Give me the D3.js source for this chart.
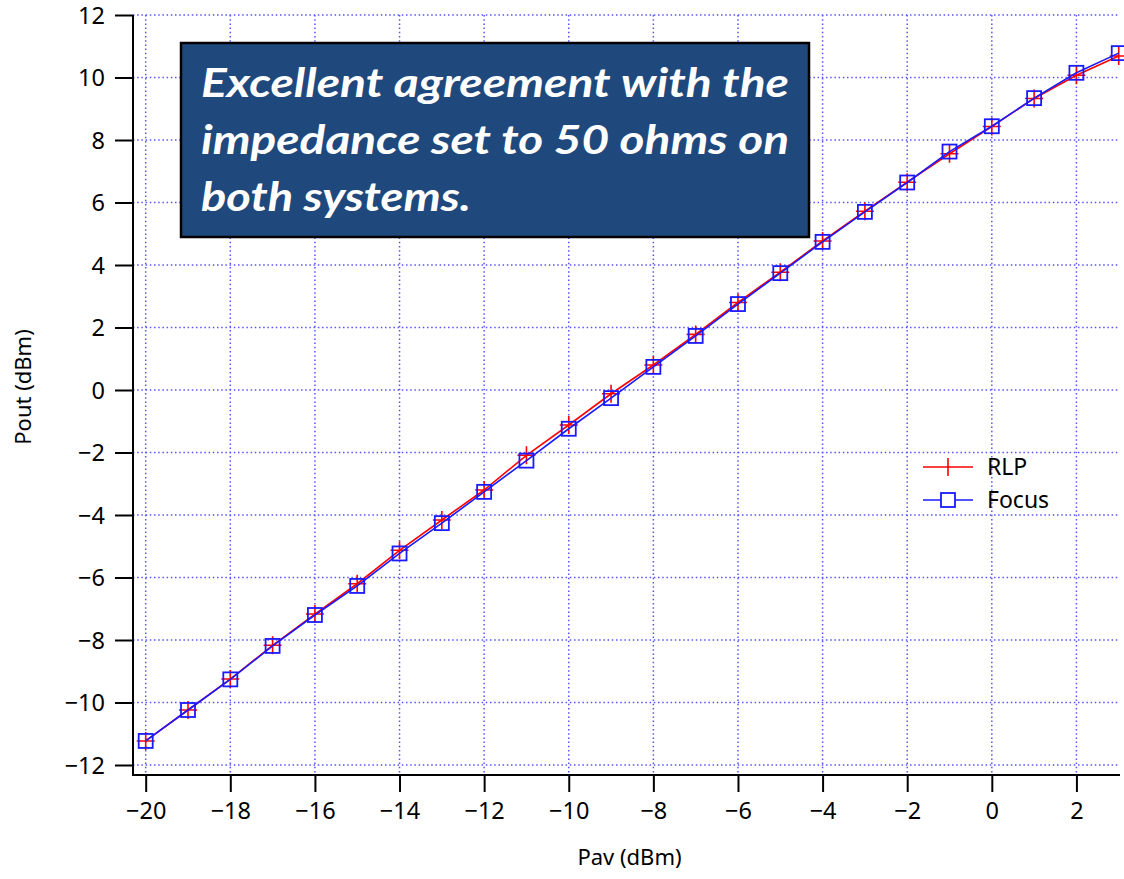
<!DOCTYPE html>
<html>
<head>
<meta charset="utf-8">
<script src="https://cdn.jsdelivr.net/npm/d3@7"></script>
<style>
  body { margin: 0; background: #fff; }
  svg { display: block; font-family: "Noto Sans", "Open Sans", sans-serif; }
</style>
</head>
<body>
<svg id="chart"></svg>
<script>
const width = 1124;
const height = 879;

// data
const pav = [-20, -19, -18, -17, -16, -15, -14, -13, -12, -11, -10, -9, -8, -7, -6, -5, -4, -3, -2, -1, 0, 1, 2, 3];
const rlp = [-11.23, -10.24, -9.25, -8.17, -7.17, -6.2, -5.13, -4.16, -3.2, -2.09, -1.12, -0.12, 0.8, 1.78, 2.8, 3.77, 4.77, 5.72, 6.65, 7.56, 8.43, 9.33, 10.07, 10.69];
const focus = [-11.23, -10.24, -9.26, -8.19, -7.2, -6.27, -5.23, -4.26, -3.26, -2.26, -1.24, -0.26, 0.74, 1.73, 2.75, 3.74, 4.74, 5.7, 6.64, 7.63, 8.44, 9.34, 10.15, 10.78];
const xTicks = [-20, -18, -16, -14, -12, -10, -8, -6, -4, -2, 0, 2];
const yTicks = [-12, -10, -8, -6, -4, -2, 0, 2, 4, 6, 8, 10, 12];
const noteLines = ['Excellent agreement with the', 'impedance set to 50 ohms on', 'both systems.'];
const legendNames = ['RLP', 'Focus'];

const plotLeft = 133, plotRight = 1120, plotTop = 15, plotBottom = 775;

const svg = d3.select('#chart')
    .attr('width', width)
    .attr('height', height);

const x = d3.scaleLinear().domain([-20.3, 3.03]).range([plotLeft, plotRight]);
const y = d3.scaleLinear().domain([-12.32, 12]).range([plotBottom, plotTop]);

// grid
const grid = svg.append('g')
    .attr('stroke', '#5555ff')
    .attr('stroke-width', 1.5)
    .attr('stroke-dasharray', '1.5,2.7');

grid.selectAll('.hg').data(yTicks).enter().append('line')
    .attr('x1', plotLeft).attr('x2', plotRight)
    .attr('y1', d => y(d)).attr('y2', d => y(d));

grid.selectAll('.vg').data(xTicks).enter().append('line')
    .attr('x1', d => x(d)).attr('x2', d => x(d))
    .attr('y1', plotTop).attr('y2', plotBottom);

// axes
const fmt = d => d < 0 ? '\u2212' + Math.abs(d) : String(d);

const xAxis = svg.append('g')
    .attr('transform', `translate(0, ${plotBottom})`)
    .call(d3.axisBottom(x).tickValues(xTicks).tickSize(17).tickSizeOuter(0).tickPadding(10).tickFormat(fmt));

const yAxis = svg.append('g')
    .attr('transform', `translate(${plotLeft}, 0)`)
    .call(d3.axisLeft(y).tickValues(yTicks).tickSize(18).tickSizeOuter(0).tickPadding(10).tickFormat(fmt));

[xAxis, yAxis].forEach(a => {
    a.select('.domain').attr('stroke', '#000').attr('stroke-width', 2);
    a.selectAll('.tick line').attr('stroke', '#000').attr('stroke-width', 2);
    a.selectAll('.tick text')
        .attr('fill', '#000')
        .style('font-family', '"Noto Sans", sans-serif')
        .style('font-size', '23.5px');
});
yAxis.selectAll('.tick text').attr('dy', '0.34em');
yAxis.select('.domain').attr('d', `M0,${plotBottom + 1}V${plotTop}`);
xAxis.select('.domain').attr('d', `M${plotLeft - 1},0H${plotRight}`);

svg.append('text')
    .attr('x', (plotLeft + plotRight) / 2 + 3)
    .attr('y', 865)
    .attr('text-anchor', 'middle')
    .style('font-size', '22px')
    .text('Pav (dBm)');

svg.append('text')
    .attr('transform', `translate(31, ${(plotTop + plotBottom) / 2- 8}) rotate(-90)`)
    .attr('text-anchor', 'middle')
    .style('font-size', '22px')
    .text('Pout (dBm)');

// series
const line = d3.line()
    .x((d, i) => x(pav[i]))
    .y(d => y(d));

svg.append('path')
    .datum(rlp)
    .attr('fill', 'none')
    .attr('stroke', '#ff0000')
    .attr('stroke-width', 1.6)
    .attr('d', line);

svg.selectAll('.cross').data(rlp).enter().append('path')
    .attr('class', 'cross')
    .attr('fill', 'none')
    .attr('stroke', '#ff0000')
    .attr('stroke-width', 1.6)
    .attr('d', (d, i) => `M${x(pav[i]) - 9},${y(d)}h18M${x(pav[i])},${y(d) - 9}v18`);

svg.append('path')
    .datum(focus)
    .attr('fill', 'none')
    .attr('stroke', '#1a1aff')
    .attr('stroke-width', 1.6)
    .attr('d', line);

svg.selectAll('.sq').data(focus).enter().append('rect')
    .attr('class', 'sq')
    .attr('x', (d, i) => x(pav[i]) - 7)
    .attr('y', d => y(d) - 7)
    .attr('width', 14)
    .attr('height', 14)
    .attr('fill', 'none')
    .attr('stroke', '#1a1aff')
    .attr('stroke-width', 1.8);

// legend
const legend = svg.append('g').attr('transform', 'translate(923, 467)');
const legendColors = ['#ff0000', '#1a1aff'];

legendNames.forEach((name, i) => {
    const g = legend.append('g').attr('transform', `translate(0, ${i * 33})`);
    g.append('line')
        .attr('x1', 0).attr('x2', 50)
        .attr('stroke', legendColors[i]).attr('stroke-width', 1.6);
    if (i === 0) {
        g.append('line')
            .attr('x1', 25).attr('x2', 25).attr('y1', -9).attr('y2', 9)
            .attr('stroke', legendColors[i]).attr('stroke-width', 1.6);
    } else {
        g.append('rect')
            .attr('x', 18).attr('y', -7).attr('width', 14).attr('height', 14)
            .attr('fill', '#fff')
            .attr('stroke', legendColors[i]).attr('stroke-width', 1.8);
    }
    g.append('text')
        .attr('x', 64).attr('dy', '0.35em')
        .style('font-size', '23px')
        .text(name);
});

// note box
const note = svg.append('g');
note.append('rect')
    .attr('x', 181).attr('y', 43)
    .attr('width', 628).attr('height', 194)
    .attr('fill', '#1f497d')
    .attr('stroke', '#000')
    .attr('stroke-width', 2.5);

note.selectAll('text').data(noteLines).enter().append('text')
    .attr('x', 201)
    .attr('y', (d, i) => 97 + i * 57)
    .attr('fill', '#fff')
    .style('font-family', 'Lato, "Open Sans", sans-serif')
    .style('font-weight', 'bold')
    .style('font-style', 'italic')
    .style('font-size', '41px')
    .attr('textLength', (d, i) => [588, 588, 270][i])
    .attr('lengthAdjust', 'spacingAndGlyphs')
    .text(d => d);
</script>
</body>
</html>
